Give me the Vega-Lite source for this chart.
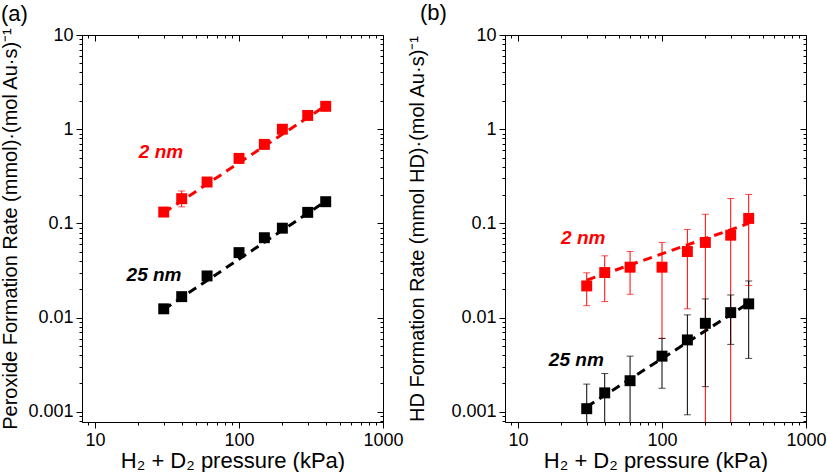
{
  "$schema": "https://vega.github.io/schema/vega-lite/v6.json",
  "padding": {"left": 0, "top": 1, "right": 0, "bottom": 0},
  "bounds": "flush",
  "spacing": 122,
  "config": {
    "font": "Liberation Sans",
    "view": {"stroke": "#000000", "strokeWidth": 1},
    "axis": {"domainColor": "#000000", "tickColor": "#000000", "labelColor": "#000000", "titleColor": "#000000", "labelFont": "Liberation Sans", "titleFont": "Liberation Sans", "labelFontSize": 18, "titleFontSize": 22, "titleFontWeight": "normal", "grid": false, "labelPadding": 3},
    "title": {"font": "Liberation Sans", "fontSize": 22, "fontWeight": "normal", "color": "#000000"}
  },
  "datasets": {
    "ptsA": [
      {"p": 30, "r": 0.132, "s": "2 nm"},
      {"p": 40, "r": 0.183, "lo": 0.150, "hi": 0.221, "s": "2 nm"},
      {"p": 60, "r": 0.275, "s": "2 nm"},
      {"p": 100, "r": 0.49, "s": "2 nm"},
      {"p": 150, "r": 0.69, "s": "2 nm"},
      {"p": 200, "r": 1.0, "s": "2 nm"},
      {"p": 300, "r": 1.4, "s": "2 nm"},
      {"p": 400, "r": 1.75, "s": "2 nm"},
      {"p": 30, "r": 0.0124, "s": "25 nm"},
      {"p": 40, "r": 0.0167, "s": "25 nm"},
      {"p": 60, "r": 0.0277, "s": "25 nm"},
      {"p": 100, "r": 0.049, "s": "25 nm"},
      {"p": 150, "r": 0.0705, "s": "25 nm"},
      {"p": 200, "r": 0.089, "s": "25 nm"},
      {"p": 300, "r": 0.131, "s": "25 nm"},
      {"p": 400, "r": 0.170, "s": "25 nm"}
    ],
    "fitA": [
      {"p": 30, "r": 0.13, "s": "2 nm"},
      {"p": 400, "r": 1.78, "s": "2 nm"},
      {"p": 30, "r": 0.0122, "s": "25 nm"},
      {"p": 400, "r": 0.172, "s": "25 nm"}
    ],
    "labA": [
      {"p": 28.7, "r": 0.566, "s": "2 nm"},
      {"p": 25.7, "r": 0.0286, "s": "25 nm"}
    ],
    "ptsB": [
      {"p": 30, "r": 0.0217, "lo": 0.0134, "hi": 0.0299, "s": "2 nm"},
      {"p": 40, "r": 0.0301, "lo": 0.0148, "hi": 0.0453, "s": "2 nm"},
      {"p": 60, "r": 0.0343, "lo": 0.0177, "hi": 0.0504, "s": "2 nm"},
      {"p": 100, "r": 0.0343, "lo": 0.0060, "hi": 0.0628, "s": "2 nm"},
      {"p": 150, "r": 0.0503, "lo": 0.0124, "hi": 0.0863, "s": "2 nm"},
      {"p": 200, "r": 0.0628, "lo": 0.0001, "hi": 0.125, "s": "2 nm"},
      {"p": 300, "r": 0.0750, "lo": 0.0001, "hi": 0.184, "s": "2 nm"},
      {"p": 400, "r": 0.113, "lo": 0.0219, "hi": 0.203, "s": "2 nm"},
      {"p": 30, "r": 0.00108, "lo": 0.00001, "hi": 0.00197, "s": "25 nm"},
      {"p": 40, "r": 0.00159, "lo": 0.00001, "hi": 0.00255, "s": "25 nm"},
      {"p": 60, "r": 0.00214, "lo": 0.00001, "hi": 0.0039, "s": "25 nm"},
      {"p": 100, "r": 0.0039, "lo": 0.00178, "hi": 0.00603, "s": "25 nm"},
      {"p": 150, "r": 0.0058, "lo": 0.00093, "hi": 0.0107, "s": "25 nm"},
      {"p": 200, "r": 0.0087, "lo": 0.00185, "hi": 0.0158, "s": "25 nm"},
      {"p": 300, "r": 0.0113, "lo": 0.0052, "hi": 0.0174, "s": "25 nm"},
      {"p": 400, "r": 0.0140, "lo": 0.00369, "hi": 0.0245, "s": "25 nm"}
    ],
    "fitB": [
      {"p": 30, "r": 0.025, "s": "2 nm"},
      {"p": 400, "r": 0.10, "s": "2 nm"},
      {"p": 30, "r": 0.00113, "s": "25 nm"},
      {"p": 400, "r": 0.0143, "s": "25 nm"}
    ],
    "labB": [
      {"p": 28.4, "r": 0.0698, "s": "2 nm"},
      {"p": 25.4, "r": 0.00355, "s": "25 nm"}
    ]
  },
  "hconcat": [
    {
      "title": {"text": "(a)", "anchor": "start", "frame": "bounds", "offset": 0},
      "width": 301,
      "height": 387,
      "resolve": {"axis": {"x": "independent", "y": "independent"}},
      "layer": [
        {
          "data": {"name": "fitA"},
          "mark": {"type": "line", "strokeDash": [9, 6], "strokeWidth": 3},
          "encoding": {
            "x": {"field": "p", "type": "quantitative", "scale": {"type": "log", "domain": [8.12, 1000], "nice": false},
              "axis": {"orient": "bottom", "values": [10, 100, 1000], "format": "~g", "tickSize": 6, "title": "H₂ + D₂ pressure (kPa)", "labelFlush": false, "labelOverlap": false, "labelBound": false, "titlePadding": 1}},
            "y": {"field": "r", "type": "quantitative", "scale": {"type": "log", "domain": [0.00078, 10], "nice": false},
              "axis": {"orient": "left", "values": [0.001, 0.01, 0.1, 1, 10], "format": "~g", "tickSize": 6, "title": "Peroxide Formation Rate (mmol)·(mol Au·s)⁻¹", "titleFontSize": 20, "labelOverlap": false, "titlePadding": 7}},
            "color": {"field": "s", "type": "nominal", "scale": {"domain": ["2 nm", "25 nm"], "range": ["#ff0000", "#000000"]}, "legend": null}
          }
        },
        {
          "data": {"name": "fitA"},
          "mark": {"type": "line", "opacity": 0},
          "encoding": {
            "x": {"field": "p", "type": "quantitative",
              "axis": {"orient": "bottom", "values": [9,20,30,40,50,60,70,80,90,200,300,400,500,600,700,800,900], "labels": false, "domain": false, "tickSize": 3, "title": null, "minExtent": 0, "maxExtent": 0}},
            "y": {"field": "r", "type": "quantitative",
              "axis": {"orient": "left", "values": [0.0008,0.0009,0.002,0.003,0.004,0.005,0.006,0.007,0.008,0.009,0.02,0.03,0.04,0.05,0.06,0.07,0.08,0.09,0.2,0.3,0.4,0.5,0.6,0.7,0.8,0.9,2,3,4,5,6,7,8,9], "labels": false, "domain": false, "tickSize": 3, "title": null, "minExtent": 0, "maxExtent": 0}},
            "detail": {"field": "s"}
          }
        },
        {
          "data": {"name": "fitA"},
          "mark": {"type": "line", "opacity": 0},
          "encoding": {
            "x": {"field": "p", "type": "quantitative",
              "axis": {"orient": "top", "values": [10, 100, 1000], "labels": false, "domain": false, "tickSize": -6, "title": null, "minExtent": 0, "maxExtent": 0}},
            "y": {"field": "r", "type": "quantitative",
              "axis": {"orient": "right", "values": [0.001, 0.01, 0.1, 1, 10], "labels": false, "domain": false, "tickSize": -6, "title": null, "minExtent": 0, "maxExtent": 0}},
            "detail": {"field": "s"}
          }
        },
        {
          "data": {"name": "fitA"},
          "mark": {"type": "line", "opacity": 0},
          "encoding": {
            "x": {"field": "p", "type": "quantitative",
              "axis": {"orient": "top", "values": [9,20,30,40,50,60,70,80,90,200,300,400,500,600,700,800,900], "labels": false, "domain": false, "tickSize": -3, "title": null, "minExtent": 0, "maxExtent": 0}},
            "y": {"field": "r", "type": "quantitative",
              "axis": {"orient": "right", "values": [0.0008,0.0009,0.002,0.003,0.004,0.005,0.006,0.007,0.008,0.009,0.02,0.03,0.04,0.05,0.06,0.07,0.08,0.09,0.2,0.3,0.4,0.5,0.6,0.7,0.8,0.9,2,3,4,5,6,7,8,9], "labels": false, "domain": false, "tickSize": -3, "title": null, "minExtent": 0, "maxExtent": 0}},
            "detail": {"field": "s"}
          }
        },
        {
          "data": {"name": "ptsA"},
          "transform": [{"filter": "datum.lo != null"}],
          "mark": {"type": "rule", "strokeWidth": 1, "clip": true},
          "encoding": {
            "x": {"field": "p", "type": "quantitative", "axis": null},
            "y": {"field": "lo", "type": "quantitative", "axis": null},
            "y2": {"field": "hi"},
            "color": {"field": "s", "type": "nominal", "legend": null}
          }
        },
        {
          "data": {"name": "ptsA"},
          "transform": [{"filter": "datum.lo != null"}, {"fold": ["lo", "hi"], "as": ["k", "v"]}],
          "mark": {"type": "tick", "orient": "horizontal", "size": 7, "thickness": 1, "clip": true},
          "encoding": {
            "x": {"field": "p", "type": "quantitative", "axis": null},
            "y": {"field": "v", "type": "quantitative", "axis": null},
            "color": {"field": "s", "type": "nominal", "legend": null}
          }
        },
        {
          "data": {"name": "ptsA"},
          "mark": {"type": "point", "shape": "square", "filled": true, "opacity": 1, "size": 120},
          "encoding": {
            "x": {"field": "p", "type": "quantitative", "axis": null},
            "y": {"field": "r", "type": "quantitative", "axis": null},
            "color": {"field": "s", "type": "nominal", "legend": null}
          }
        },
        {
          "data": {"name": "labA"},
          "mark": {"type": "text", "fontSize": 19, "fontWeight": "bold", "fontStyle": "italic", "align": "center", "baseline": "middle", "font": "Liberation Sans"},
          "encoding": {
            "x": {"field": "p", "type": "quantitative", "axis": null},
            "y": {"field": "r", "type": "quantitative", "axis": null},
            "text": {"field": "s"},
            "color": {"field": "s", "type": "nominal", "legend": null}
          }
        }
      ]
    },
    {
      "title": {"text": "(b)", "anchor": "start", "frame": "bounds", "offset": 1, "dx": 12},
      "width": 301,
      "height": 387,
      "resolve": {"axis": {"x": "independent", "y": "independent"}},
      "layer": [
        {
          "data": {"name": "fitB"},
          "mark": {"type": "line", "strokeDash": [9, 6], "strokeWidth": 3},
          "encoding": {
            "x": {"field": "p", "type": "quantitative", "scale": {"type": "log", "domain": [8.12, 1000], "nice": false},
              "axis": {"orient": "bottom", "values": [10, 100, 1000], "format": "~g", "tickSize": 6, "title": "H₂ + D₂ pressure (kPa)", "labelFlush": false, "labelOverlap": false, "labelBound": false, "titlePadding": 1}},
            "y": {"field": "r", "type": "quantitative", "scale": {"type": "log", "domain": [0.00078, 10], "nice": false},
              "axis": {"orient": "left", "values": [0.001, 0.01, 0.1, 1, 10], "format": "~g", "tickSize": 6, "title": "HD Formation Rate (mmol HD)·(mol Au·s)⁻¹", "titleFontSize": 20, "labelOverlap": false, "titlePadding": 23}},
            "color": {"field": "s", "type": "nominal", "scale": {"domain": ["2 nm", "25 nm"], "range": ["#ff0000", "#000000"]}, "legend": null}
          }
        },
        {
          "data": {"name": "fitB"},
          "mark": {"type": "line", "opacity": 0},
          "encoding": {
            "x": {"field": "p", "type": "quantitative",
              "axis": {"orient": "bottom", "values": [9,20,30,40,50,60,70,80,90,200,300,400,500,600,700,800,900], "labels": false, "domain": false, "tickSize": 3, "title": null, "minExtent": 0, "maxExtent": 0}},
            "y": {"field": "r", "type": "quantitative",
              "axis": {"orient": "left", "values": [0.0008,0.0009,0.002,0.003,0.004,0.005,0.006,0.007,0.008,0.009,0.02,0.03,0.04,0.05,0.06,0.07,0.08,0.09,0.2,0.3,0.4,0.5,0.6,0.7,0.8,0.9,2,3,4,5,6,7,8,9], "labels": false, "domain": false, "tickSize": 3, "title": null, "minExtent": 0, "maxExtent": 0}},
            "detail": {"field": "s"}
          }
        },
        {
          "data": {"name": "fitB"},
          "mark": {"type": "line", "opacity": 0},
          "encoding": {
            "x": {"field": "p", "type": "quantitative",
              "axis": {"orient": "top", "values": [10, 100, 1000], "labels": false, "domain": false, "tickSize": -6, "title": null, "minExtent": 0, "maxExtent": 0}},
            "y": {"field": "r", "type": "quantitative",
              "axis": {"orient": "right", "values": [0.001, 0.01, 0.1, 1, 10], "labels": false, "domain": false, "tickSize": -6, "title": null, "minExtent": 0, "maxExtent": 0}},
            "detail": {"field": "s"}
          }
        },
        {
          "data": {"name": "fitB"},
          "mark": {"type": "line", "opacity": 0},
          "encoding": {
            "x": {"field": "p", "type": "quantitative",
              "axis": {"orient": "top", "values": [9,20,30,40,50,60,70,80,90,200,300,400,500,600,700,800,900], "labels": false, "domain": false, "tickSize": -3, "title": null, "minExtent": 0, "maxExtent": 0}},
            "y": {"field": "r", "type": "quantitative",
              "axis": {"orient": "right", "values": [0.0008,0.0009,0.002,0.003,0.004,0.005,0.006,0.007,0.008,0.009,0.02,0.03,0.04,0.05,0.06,0.07,0.08,0.09,0.2,0.3,0.4,0.5,0.6,0.7,0.8,0.9,2,3,4,5,6,7,8,9], "labels": false, "domain": false, "tickSize": -3, "title": null, "minExtent": 0, "maxExtent": 0}},
            "detail": {"field": "s"}
          }
        },
        {
          "data": {"name": "ptsB"},
          "transform": [{"filter": "datum.lo != null"}],
          "mark": {"type": "rule", "strokeWidth": 1, "clip": true},
          "encoding": {
            "x": {"field": "p", "type": "quantitative", "axis": null},
            "y": {"field": "lo", "type": "quantitative", "axis": null},
            "y2": {"field": "hi"},
            "color": {"field": "s", "type": "nominal", "legend": null}
          }
        },
        {
          "data": {"name": "ptsB"},
          "transform": [{"filter": "datum.lo != null"}, {"fold": ["lo", "hi"], "as": ["k", "v"]}],
          "mark": {"type": "tick", "orient": "horizontal", "size": 7, "thickness": 1, "clip": true},
          "encoding": {
            "x": {"field": "p", "type": "quantitative", "axis": null},
            "y": {"field": "v", "type": "quantitative", "axis": null},
            "color": {"field": "s", "type": "nominal", "legend": null}
          }
        },
        {
          "data": {"name": "ptsB"},
          "mark": {"type": "point", "shape": "square", "filled": true, "opacity": 1, "size": 120},
          "encoding": {
            "x": {"field": "p", "type": "quantitative", "axis": null},
            "y": {"field": "r", "type": "quantitative", "axis": null},
            "color": {"field": "s", "type": "nominal", "legend": null}
          }
        },
        {
          "data": {"name": "labB"},
          "mark": {"type": "text", "fontSize": 19, "fontWeight": "bold", "fontStyle": "italic", "align": "center", "baseline": "middle", "font": "Liberation Sans"},
          "encoding": {
            "x": {"field": "p", "type": "quantitative", "axis": null},
            "y": {"field": "r", "type": "quantitative", "axis": null},
            "text": {"field": "s"},
            "color": {"field": "s", "type": "nominal", "legend": null}
          }
        }
      ]
    }
  ]
}
